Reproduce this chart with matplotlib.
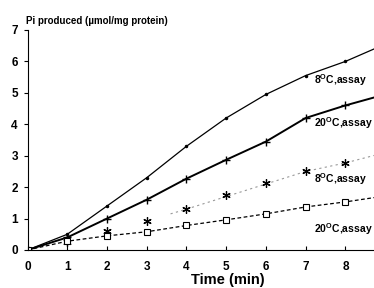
import matplotlib
matplotlib.use("Agg")
import matplotlib.pyplot as plt

time = [0, 1, 2, 3, 4, 5, 6, 7, 8, 9]
top8 = [0, 0.5, 1.4, 2.3, 3.3, 4.2, 4.95, 5.55, 6.0, 6.55]
top20 = [0, 0.4, 1.0, 1.6, 2.27, 2.87, 3.45, 4.2, 4.6, 4.95]
t_low8 = [1, 2, 3, 4, 5, 6, 7, 8]
low8 = [0.25, 0.62, 0.92, 1.3, 1.75, 2.13, 2.5, 2.77]
t_low8_line = [3.6, 4, 6.5, 7, 8, 9]
low8_line = [1.15, 1.3, 2.3, 2.5, 2.77, 3.1]
low20 = [0, 0.28, 0.45, 0.58, 0.78, 0.96, 1.15, 1.37, 1.53, 1.72]

labels = ["8$^{\\mathbf{O}}$C,assay", "20$^{\\mathbf{O}}$C,assay",
          "8$^{\\mathbf{O}}$C,assay", "20$^{\\mathbf{O}}$C,assay"]
label_y = [5.4, 4.03, 2.26, 0.67]

plt.rcParams['font.family'] = ['Liberation Sans', 'DejaVu Sans']
plt.rcParams['mathtext.fontset'] = 'custom'
plt.rcParams['mathtext.bf'] = 'Liberation Sans:bold'
plt.rcParams['mathtext.rm'] = 'Liberation Sans:bold'
fig = plt.figure(figsize=(3.74, 2.88), dpi=100)
ax = fig.add_axes([27.5/374, 38/288, 1 - 27.5/374, 220/288])

ax.plot(time, top8, color='black', lw=0.9, marker='.', ms=3)
ax.plot(time, top20, color='black', lw=1.4, marker='+', ms=6, mew=1.0)
ax.plot(t_low8_line, low8_line, color='#999999', lw=0.8, ls=(0, (2, 3)))
ax.plot(t_low8, low8, color='black', lw=0, marker=(6, 2, 0), ms=6, mew=0.9)
ax.plot(time, low20, color='black', lw=0.9, ls=(0, (3, 2)), marker='s',
        ms=4, mfc='white', mew=0.8)

for lab, yv in zip(labels, label_y):
    ax.text(7.2, yv, lab, fontsize=7.5, fontweight='bold', va='center', ha='left')

ax.set_xlim(0, 8.72)
ax.set_ylim(0, 7)
ax.set_xticks(range(0, 9))
ax.set_yticks(range(0, 8))
ax.spines['top'].set_visible(False)
ax.spines['right'].set_visible(False)
ax.spines['left'].set_bounds(0, 7)
ax.tick_params(axis='y', direction='out', length=3, labelsize=8.5, width=0.8, pad=4)
ax.tick_params(axis='x', direction='in', length=3, labelsize=8.5, width=0.8, pad=8)
for lab in ax.get_xticklabels() + ax.get_yticklabels():
    lab.set_fontweight('bold')

fig.text(228/374, 1 - 280/288, "Time (min)", fontsize=10.5, fontweight='bold',
         va='center', ha='center')
fig.text(26/374, 1 - 21/288, "Pi produced (\u00b5mol/mg protein)", fontsize=7,
         fontweight='bold', va='center', ha='left')

fig.savefig("out.png", dpi=100)
